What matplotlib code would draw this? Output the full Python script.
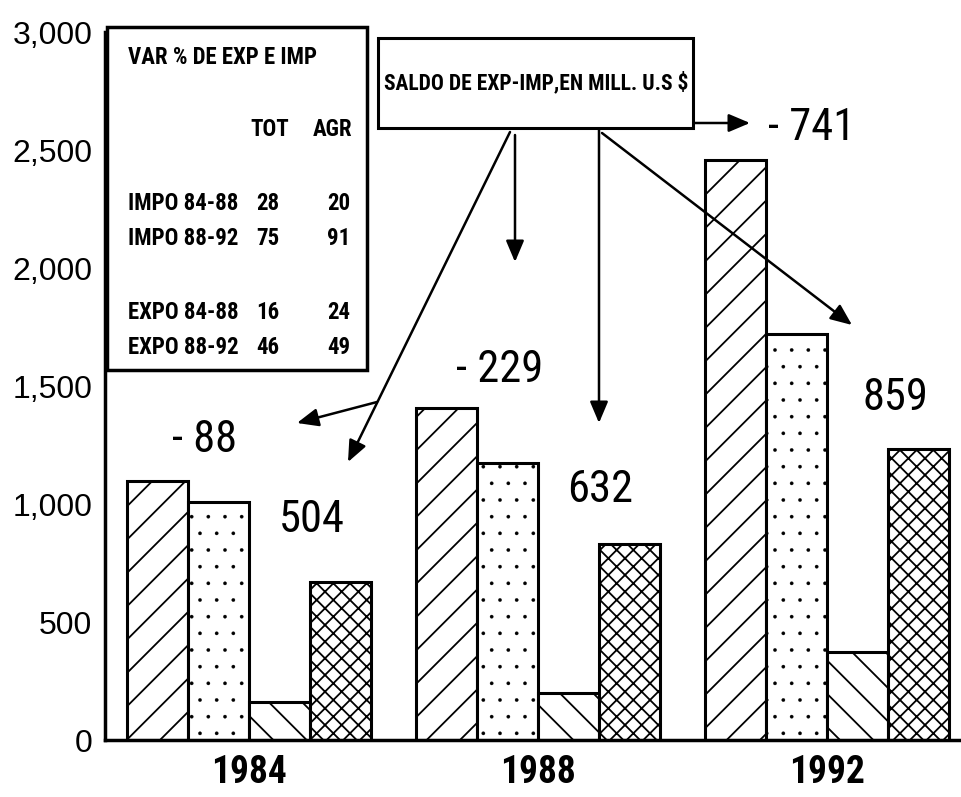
import matplotlib
matplotlib.use("Agg")
import numpy as np
from matplotlib import pyplot as plt
from matplotlib.patches import Rectangle

# values (millions US$)
years = ["1984", "1988", "1992"]
impo_tot = [1097, 1407, 2458]
expo_tot = [1008, 1174, 1720]
impo_agr = [161, 199, 373]
expo_agr = [669, 830, 1232]
saldo_tot = ["- 88", "- 229", "- 741"]
saldo_agr = ["504", "632", "859"]

table_rows = ["IMPO 84-88", "IMPO 88-92", "EXPO 84-88", "EXPO 88-92"]
table_tot = ["28", "75", "16", "46"]
table_agr = ["20", "91", "24", "49"]

NARROW = ["Roboto Condensed", "DejaVu Sans"]
W, H = 962, 797

plt.rcParams["hatch.linewidth"] = 1.3
plt.rcParams["font.family"] = ["Liberation Sans", "DejaVu Sans"]

fig = plt.figure(figsize=(W / 100, H / 100), dpi=100)
ax = fig.add_axes([105 / W, 1 - 740 / H, 1 - 105 / W, (740 - 32) / H])

def px(x, y):
    # pixel position in the image -> figure fraction
    return (x / W, 1 - y / H)

x = np.arange(len(years))
w = 0.211
series = [impo_tot, expo_tot, impo_agr, expo_agr]
hatches = ["/", ".", "\\", "xx"]
for i, (vals, h) in enumerate(zip(series, hatches)):
    bars = ax.bar(x + (i - 1.5) * w, vals, w, facecolor="white", edgecolor="black",
                  hatch=h, linewidth=2.2)
    if h == ".":
        for b in bars:
            try:
                b.set_hatch_linewidth(0.2)
            except AttributeError:
                pass

ax.set_xlim(-0.498, 2.467)
ax.set_ylim(0, 3000)
ax.set_yticks(range(0, 3001, 500))
ax.set_yticklabels([f"{v:,}" for v in range(0, 3001, 500)], fontsize=23)
ax.set_xticks(x)
ax.set_xticklabels(years, fontsize=27, family=NARROW, fontweight="bold")
ax.tick_params(axis="both", length=0)
ax.tick_params(axis="y", pad=9)
ax.tick_params(axis="x", pad=10)
for s in ["top", "right"]:
    ax.spines[s].set_visible(False)
ax.spines["left"].set_linewidth(2.5)
ax.spines["bottom"].set_linewidth(2.5)

# balance labels
tot_pos = [(205, 440), (500, 370), (812, 128)]
agr_pos = [(312, 520), (600, 490), (895, 398)]
for lab, p in zip(saldo_tot + saldo_agr, tot_pos + agr_pos):
    fig.text(*px(*p), lab, fontsize=32, family=NARROW,
             ha="center", va="center")

# table box
fig.patches.append(Rectangle(px(107, 370), (367 - 107) / W, (370 - 27) / H,
                             transform=fig.transFigure, facecolor="white",
                             edgecolor="black", linewidth=2.5, zorder=3))
fs = 16.5
tw = "bold"
fig.text(*px(128, 57), "VAR % DE EXP E IMP", fontsize=fs, family=NARROW,
         fontweight=tw, va="center", zorder=4)
fig.text(*px(250, 129), "TOT", fontsize=fs, family=NARROW, fontweight=tw,
         va="center", zorder=4)
fig.text(*px(352, 129), "AGR", fontsize=fs, family=NARROW, fontweight=tw,
         va="center", ha="right", zorder=4)
for lab, t, a, y in zip(table_rows, table_tot, table_agr, [203, 238, 312, 347]):
    fig.text(*px(128, y), lab, fontsize=fs, family=NARROW, fontweight=tw,
             va="center", zorder=4)
    fig.text(*px(256, y), t, fontsize=fs, family=NARROW, fontweight=tw,
             va="center", zorder=4)
    fig.text(*px(350, y), a, fontsize=fs, family=NARROW, fontweight=tw,
             va="center", ha="right", zorder=4)

# saldo box
fig.patches.append(Rectangle(px(378, 128), (693 - 378) / W, (128 - 38) / H,
                             transform=fig.transFigure, facecolor="white",
                             edgecolor="black", linewidth=2.2, zorder=3))
fig.text(*px(536, 83), "SALDO DE EXP-IMP,EN MILL. U.S $", fontsize=15.5,
         family=NARROW, fontweight=tw, ha="center", va="center", zorder=4)

# arrows
arrows = [((510, 132), (348, 462)), ((377, 402), (297, 423)),
          ((515, 135), (515, 262)), ((599, 130), (599, 423)),
          ((602, 133), (852, 325)), ((693, 123), (750, 123))]
for (x0, y0), (x1, y1) in arrows:
    ax.annotate("", xy=px(x1, y1), xytext=px(x0, y0),
                xycoords="figure fraction", textcoords="figure fraction",
                arrowprops=dict(arrowstyle="-|>,head_length=1.3,head_width=0.55",
                                color="black", lw=1.8, shrinkA=0, shrinkB=0))

fig.savefig("out.png", dpi=100)
